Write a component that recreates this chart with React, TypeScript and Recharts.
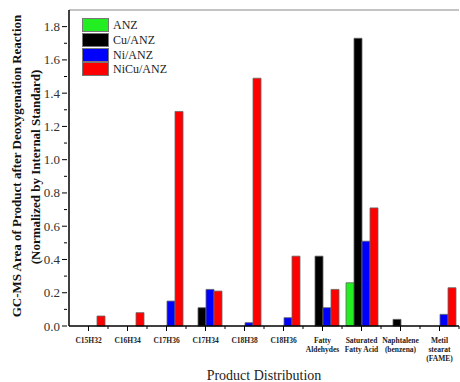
import React from 'react';
import { BarChart, Bar, XAxis, YAxis, ReferenceLine } from 'recharts';

const categories = [
  'C15H32',
  'C16H34',
  'C17H36',
  'C17H34',
  'C18H38',
  'C18H36',
  'Fatty\nAldehydes',
  'Saturated\nFatty Acid',
  'Naphtalene\n(benzena)',
  'Metil\nstearat\n(FAME)',
];
const anz = [0, 0, 0, 0, 0, 0, 0, 0.26, 0, 0];
const cuAnz = [0, 0, 0, 0.11, 0, 0, 0.42, 1.73, 0.04, 0];
const niAnz = [0, 0, 0.15, 0.22, 0.02, 0.05, 0.11, 0.51, 0, 0.07];
const nicuAnz = [0.06, 0.08, 1.29, 0.21, 1.49, 0.42, 0.22, 0.71, 0, 0.23];
// every 0.1; the even ones carry labels
const yTicks = [0, 0.1, 0.2, 0.3, 0.4, 0.5, 0.6, 0.7, 0.8, 0.9, 1.0, 1.1, 1.2, 1.3, 1.4, 1.5, 1.6, 1.7, 1.8];

const series = [
  { key: 'anz', name: 'ANZ', color: '#22ee22' },
  { key: 'cu', name: 'Cu/ANZ', color: '#000000' },
  { key: 'ni', name: 'Ni/ANZ', color: '#0000ff' },
  { key: 'nicu', name: 'NiCu/ANZ', color: '#ff0000' },
];

const data = categories.map((c, i) => ({
  name: c,
  anz: anz[i],
  cu: cuAnz[i],
  ni: niAnz[i],
  nicu: nicuAnz[i],
}));

const serif = "'Liberation Serif', 'DejaVu Serif', serif";

const XTick = (props: any) => {
  const { x, y, payload } = props;
  const lines = String(payload.value).split('\n');
  const half = payload.offset || 19.5;
  return (
    <g>
      <line x1={x} y1={y - 8} x2={x} y2={y - 3} stroke="#000" strokeWidth={1} />
      <line x1={x + half} y1={y - 8} x2={x + half} y2={y - 5} stroke="#000" strokeWidth={1} />
      {lines.map((l, i) => (
        <text
          key={i}
          x={x}
          y={y + 9 + i * 9}
          textAnchor="middle"
          fontFamily={serif}
          fontWeight="bold"
          fontSize={7.5}
          fill="#222"
        >
          {l}
        </text>
      ))}
    </g>
  );
};

const YTick = (props: any) => {
  const { x, y, payload } = props;
  const v = Number(payload.value);
  const major = Math.round(v * 10) % 2 === 0;
  return (
    <g>
      <line x1={x} y1={y} x2={x - (major ? 5 : 3)} y2={y} stroke="#000" strokeWidth={1} />
      {major && (
        <text
          x={x - 7}
          y={y}
          textAnchor="end"
          dominantBaseline="central"
          fontFamily={serif}
          fontSize={13}
          fill="#333"
        >
          {v.toFixed(1)}
        </text>
      )}
    </g>
  );
};

const YTitle = () => (
  <g fontFamily={serif} fontWeight="bold" fontSize={13} fill="#111">
    <text x={16} y={166} textAnchor="middle" dominantBaseline="central" transform="rotate(-90 16 166)">
      GC-MS Area of Product after Deoxygenation Reaction
    </text>
    <text x={35} y={167} textAnchor="middle" dominantBaseline="central" transform="rotate(-90 35 167)">
      (Normalized by Internal Standard)
    </text>
  </g>
);

const LegendBox = () => (
  <div
    style={{
      position: 'absolute',
      left: 82,
      top: 18,
      fontFamily: serif,
      fontSize: 12,
      color: '#222',
      lineHeight: 1,
    }}
  >
    {series.map((s) => (
      <div key={s.key} style={{ display: 'flex', alignItems: 'center', height: 14.7 }}>
        <span
          style={{
            display: 'inline-block',
            width: 25,
            height: 12,
            background: s.color,
            border: '1px solid #777',
            marginRight: 4,
          }}
        />
        <span>{s.name}</span>
      </div>
    ))}
  </div>
);

export default function App() {
  return (
    <div style={{ position: 'absolute', left: 0, top: 0, width: 460, height: 382, background: '#fff' }}>
      <BarChart
        width={460}
        height={382}
        data={data}
        margin={{ top: 10, right: 1, left: 0, bottom: 0 }}
        barGap={0}
        barSize={8}
      >
        <XAxis
          dataKey="name"
          interval={0}
          height={56}
          tickLine={false}
          tick={<XTick />}
          axisLine={{ stroke: '#000', strokeWidth: 1.5 }}
          label={{
            value: 'Product Distribution',
            position: 'insideBottom',
            offset: 2,
            fontFamily: serif,
            fontSize: 14,
            fill: '#222',
          }}
        />
        <YAxis
          width={69}
          domain={[0, 1.9]}
          ticks={yTicks}
          interval={0}
          tickLine={false}
          tickSize={0}
          axisLine={{ stroke: '#000', strokeWidth: 1.5 }}
          tick={<YTick />}
          label={<YTitle />}
        />
        <ReferenceLine y={1.9} stroke="#888" strokeWidth={1.2} />
        {series.map((s) => (
          <Bar
            key={s.key}
            dataKey={s.key}
            name={s.name}
            fill={s.color}
            stroke="#666"
            strokeWidth={0.8}
            isAnimationActive={false}
          />
        ))}
      </BarChart>
      <LegendBox />
    </div>
  );
}
